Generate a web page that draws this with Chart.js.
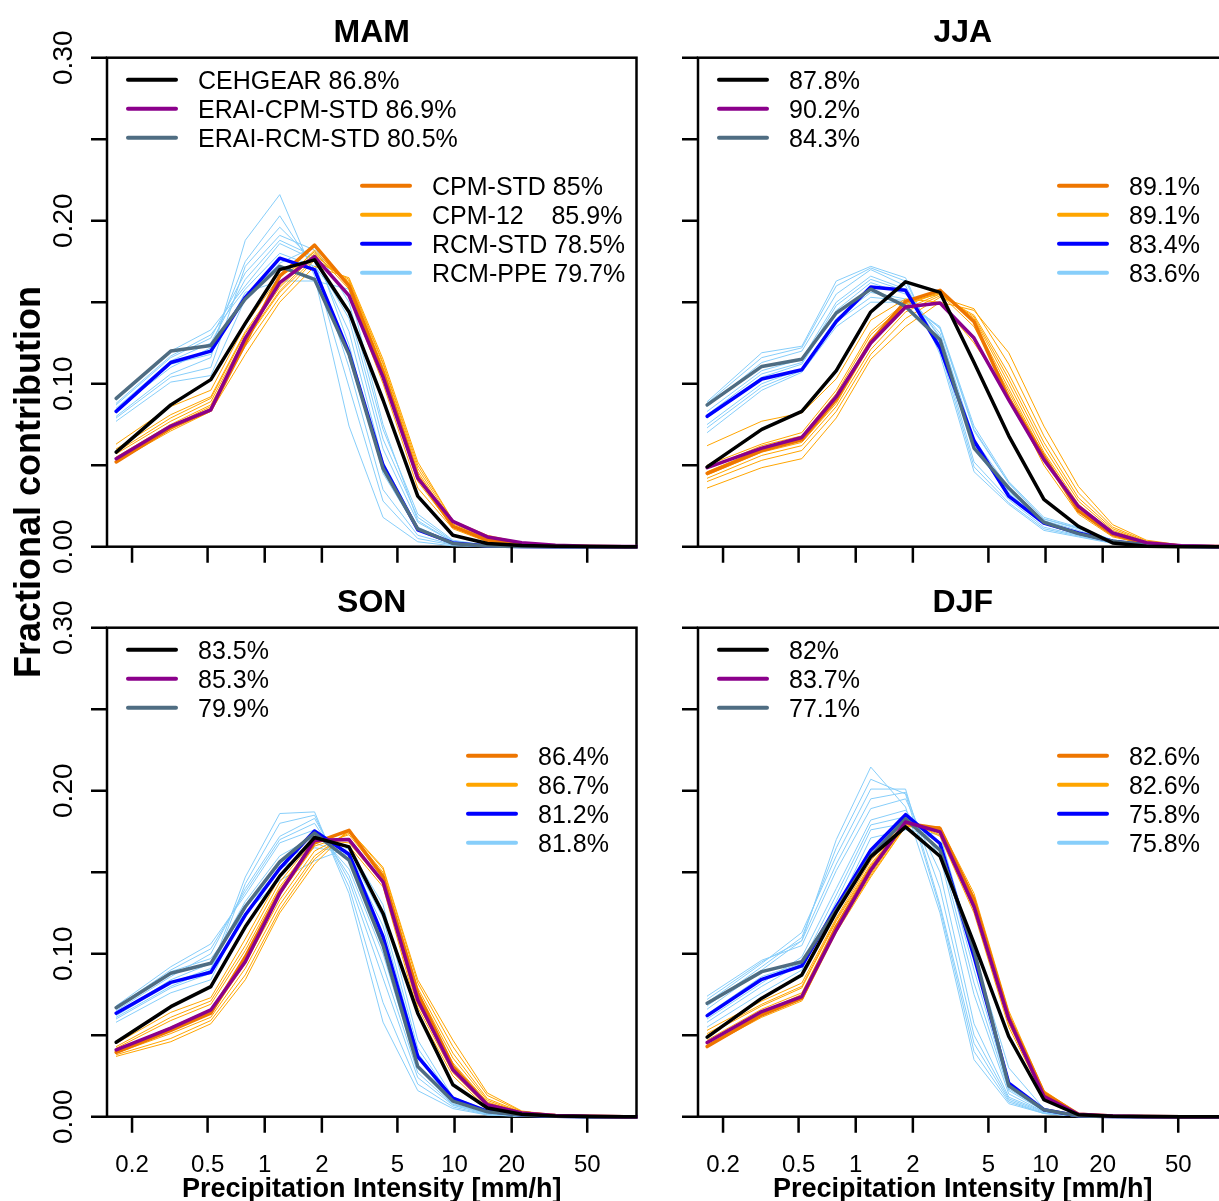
<!DOCTYPE html>
<html>
<head>
<meta charset="utf-8">
<title>Fractional contribution by precipitation intensity</title>
<script src="https://cdn.jsdelivr.net/npm/chart.js@4.4.1/dist/chart.umd.min.js"></script>
<style>
  html, body { margin: 0; padding: 0; background: #fff; overflow: hidden; }
  body { width: 1219px; height: 1201px; position: relative; }
  canvas { position: absolute; }
  #ylab {
    position: absolute; left: 28px; top: 482px;
    transform: translate(-50%, -50%) rotate(-90deg);
    font: bold 36px "Liberation Sans", Arial, sans-serif;
    line-height: 36px; white-space: nowrap; color: #000;
  }
</style>
</head>
<body>
<canvas id="mam" width="640" height="600" style="left:0px;top:0px"></canvas>
<canvas id="jja" width="640" height="600" style="left:591px;top:0px"></canvas>
<canvas id="son" width="640" height="631" style="left:0px;top:570px"></canvas>
<canvas id="djf" width="640" height="631" style="left:591px;top:570px"></canvas>
<div id="ylab">Fractional contribution</div>

<script>
//data
const xBins = [0.165, 0.32, 0.52, 0.79, 1.2, 1.83, 2.78, 4.2, 6.4, 9.8, 14.9, 22.6, 34, 52, 79, 120];
const xTicks = [0.2, 0.5, 1, 2, 5, 10, 20, 50];
const xTickLabels = ['0.2', '0.5', '1', '2', '5', '10', '20', '50'];
const yTicks = [0, 0.05, 0.1, 0.15, 0.2, 0.25, 0.3];
const yLabelValues = [0, 0.1, 0.2, 0.3];
const yLabels = ['0.00', '0.10', '0.20', '0.30'];

const seriesNames = ['CEHGEAR', 'ERAI-CPM-STD', 'ERAI-RCM-STD', 'CPM-STD', 'CPM-12', 'RCM-STD', 'RCM-PPE'];

// MAM
const mamObs      = [0.058, 0.087, 0.1025, 0.137, 0.170, 0.176, 0.144, 0.090, 0.031, 0.007, 0.002, 0.0008, 0.0003, 0.0001, 0, 0];
const mamEraiCpm  = [0.054, 0.074, 0.084, 0.128, 0.162, 0.178, 0.154, 0.104, 0.042, 0.0155, 0.006, 0.0025, 0.0009, 0.0003, 0.0001, 0];
const mamEraiRcm  = [0.091, 0.120, 0.1235, 0.152, 0.172, 0.164, 0.118, 0.048, 0.011, 0.002, 0.0005, 0.0001, 0, 0, 0, 0];
const mamCpmStd   = [0.052, 0.073, 0.084, 0.125, 0.166, 0.185, 0.160, 0.107, 0.043, 0.0125, 0.004, 0.0015, 0.0005, 0.0001, 0, 0];
const mamRcmStd   = [0.083, 0.113, 0.120, 0.153, 0.177, 0.170, 0.119, 0.050, 0.0104, 0.0023, 0.0005, 0.0001, 0, 0, 0, 0];
const mamCpm12 = [
  [0.063, 0.086, 0.096, 0.136, 0.166, 0.178, 0.155, 0.100, 0.036, 0.011, 0.003, 0.001, 0.0003, 0.0001, 0, 0],
  [0.060, 0.081, 0.092, 0.132, 0.162, 0.181, 0.158, 0.104, 0.040, 0.012, 0.004, 0.0012, 0.0004, 0.0001, 0, 0],
  [0.058, 0.079, 0.091, 0.131, 0.160, 0.182, 0.160, 0.106, 0.042, 0.013, 0.0045, 0.0014, 0.0005, 0.0001, 0, 0],
  [0.057, 0.077, 0.089, 0.129, 0.159, 0.180, 0.161, 0.108, 0.044, 0.013, 0.005, 0.0015, 0.0005, 0.0001, 0, 0],
  [0.055, 0.075, 0.087, 0.127, 0.157, 0.179, 0.162, 0.110, 0.046, 0.014, 0.0055, 0.0018, 0.0006, 0.0001, 0, 0],
  [0.054, 0.074, 0.086, 0.126, 0.156, 0.177, 0.163, 0.112, 0.048, 0.015, 0.006, 0.002, 0.0007, 0.0002, 0, 0],
  [0.053, 0.072, 0.085, 0.123, 0.153, 0.176, 0.164, 0.113, 0.050, 0.016, 0.0065, 0.0022, 0.0008, 0.0002, 0, 0],
  [0.052, 0.071, 0.083, 0.118, 0.150, 0.172, 0.165, 0.115, 0.052, 0.016, 0.007, 0.0025, 0.0009, 0.0002, 0, 0]
];
const mamRcmPpe = [
  [0.080, 0.106, 0.116, 0.188, 0.216, 0.166, 0.074, 0.018, 0.003, 0.0005, 0.0001, 0, 0, 0, 0, 0],
  [0.084, 0.110, 0.122, 0.175, 0.203, 0.170, 0.098, 0.028, 0.005, 0.001, 0.0002, 0, 0, 0, 0, 0],
  [0.079, 0.104, 0.110, 0.172, 0.196, 0.175, 0.110, 0.035, 0.007, 0.0012, 0.0002, 0, 0, 0, 0, 0],
  [0.087, 0.116, 0.128, 0.168, 0.191, 0.182, 0.124, 0.045, 0.010, 0.002, 0.0004, 0.0001, 0, 0, 0, 0],
  [0.085, 0.114, 0.125, 0.164, 0.188, 0.178, 0.132, 0.052, 0.012, 0.0025, 0.0005, 0.0001, 0, 0, 0, 0],
  [0.090, 0.120, 0.133, 0.160, 0.186, 0.176, 0.140, 0.060, 0.015, 0.003, 0.0006, 0.0001, 0, 0, 0, 0],
  [0.088, 0.117, 0.130, 0.158, 0.180, 0.172, 0.145, 0.066, 0.018, 0.0035, 0.0007, 0.0001, 0, 0, 0, 0],
  [0.077, 0.101, 0.105, 0.152, 0.174, 0.184, 0.150, 0.072, 0.020, 0.004, 0.0008, 0.0002, 0, 0, 0, 0],
  [0.082, 0.112, 0.118, 0.156, 0.163, 0.163, 0.158, 0.075, 0.016, 0.003, 0.0006, 0.0001, 0, 0, 0, 0]
];
const mamPct = ['86.8%', '86.9%', '80.5%', '85%', '85.9%', '78.5%', '79.7%'];

// JJA
const jjaObs      = [0.049, 0.072, 0.083, 0.108, 0.144, 0.1625, 0.156, 0.113, 0.068, 0.029, 0.0125, 0.0023, 0.0003, 0, 0, 0];
const jjaEraiCpm  = [0.0485, 0.0605, 0.067, 0.092, 0.125, 0.147, 0.1495, 0.128, 0.090, 0.0534, 0.0247, 0.0084, 0.0025, 0.0006, 0.0001, 0];
const jjaEraiRcm  = [0.087, 0.1106, 0.115, 0.1434, 0.158, 0.1474, 0.127, 0.0605, 0.036, 0.015, 0.008, 0.0033, 0.001, 0.0003, 0, 0];
const jjaCpmStd   = [0.045, 0.059, 0.0656, 0.0904, 0.126, 0.1505, 0.1573, 0.138, 0.091, 0.0554, 0.022, 0.0075, 0.002, 0.0005, 0.0001, 0];
const jjaRcmStd   = [0.080, 0.1029, 0.1086, 0.1382, 0.1593, 0.1573, 0.1219, 0.065, 0.031, 0.0145, 0.0084, 0.0033, 0.001, 0.0003, 0, 0];
const jjaCpm12 = [
  [0.062, 0.077, 0.082, 0.103, 0.139, 0.152, 0.150, 0.125, 0.093, 0.050, 0.020, 0.006, 0.0015, 0.0003, 0, 0],
  [0.050, 0.063, 0.070, 0.096, 0.132, 0.150, 0.155, 0.135, 0.095, 0.055, 0.024, 0.008, 0.002, 0.0005, 0.0001, 0],
  [0.048, 0.062, 0.068, 0.094, 0.130, 0.149, 0.156, 0.138, 0.097, 0.056, 0.025, 0.0085, 0.0022, 0.0005, 0.0001, 0],
  [0.046, 0.060, 0.066, 0.091, 0.127, 0.148, 0.156, 0.140, 0.100, 0.058, 0.026, 0.009, 0.0025, 0.0006, 0.0001, 0],
  [0.044, 0.058, 0.064, 0.088, 0.124, 0.146, 0.155, 0.141, 0.103, 0.061, 0.028, 0.010, 0.0028, 0.0007, 0.0001, 0],
  [0.042, 0.056, 0.062, 0.086, 0.121, 0.144, 0.154, 0.142, 0.106, 0.064, 0.030, 0.011, 0.003, 0.0008, 0.0002, 0],
  [0.040, 0.053, 0.059, 0.083, 0.118, 0.140, 0.153, 0.146, 0.112, 0.068, 0.033, 0.012, 0.0035, 0.0009, 0.0002, 0],
  [0.036, 0.0485, 0.054, 0.079, 0.115, 0.135, 0.150, 0.145, 0.119, 0.074, 0.037, 0.0135, 0.004, 0.001, 0.0002, 0]
];
const jjaRcmPpe = [
  [0.089, 0.119, 0.123, 0.163, 0.172, 0.165, 0.118, 0.046, 0.026, 0.010, 0.006, 0.002, 0.0006, 0.0001, 0, 0],
  [0.088, 0.116, 0.122, 0.160, 0.171, 0.163, 0.121, 0.049, 0.027, 0.011, 0.0065, 0.0022, 0.0006, 0.0001, 0, 0],
  [0.086, 0.113, 0.120, 0.155, 0.170, 0.160, 0.124, 0.052, 0.029, 0.012, 0.007, 0.0025, 0.0007, 0.0002, 0, 0],
  [0.083, 0.108, 0.115, 0.150, 0.166, 0.158, 0.128, 0.060, 0.033, 0.014, 0.008, 0.003, 0.0009, 0.0002, 0, 0],
  [0.081, 0.106, 0.113, 0.148, 0.164, 0.157, 0.129, 0.063, 0.034, 0.015, 0.009, 0.0032, 0.001, 0.0002, 0, 0],
  [0.079, 0.104, 0.112, 0.145, 0.162, 0.155, 0.131, 0.066, 0.036, 0.016, 0.010, 0.0035, 0.001, 0.0003, 0, 0],
  [0.075, 0.100, 0.109, 0.140, 0.156, 0.152, 0.134, 0.071, 0.039, 0.017, 0.011, 0.004, 0.0012, 0.0003, 0, 0],
  [0.073, 0.098, 0.108, 0.138, 0.153, 0.151, 0.134, 0.072, 0.039, 0.017, 0.0115, 0.004, 0.0012, 0.0003, 0, 0],
  [0.070, 0.096, 0.107, 0.135, 0.150, 0.150, 0.135, 0.074, 0.040, 0.018, 0.012, 0.004, 0.0012, 0.0003, 0, 0]
];
const jjaPct = ['87.8%', '90.2%', '84.3%', '89.1%', '89.1%', '83.4%', '83.6%'];

// SON
const sonObs      = [0.0457, 0.0675, 0.0798, 0.1165, 0.1476, 0.1713, 0.1655, 0.1247, 0.0635, 0.0196, 0.0053, 0.0015, 0.0004, 0.0001, 0, 0];
const sonEraiCpm  = [0.041, 0.0543, 0.0655, 0.0951, 0.137, 0.1696, 0.170, 0.144, 0.0716, 0.0288, 0.0073, 0.0023, 0.0007, 0.0002, 0, 0];
const sonEraiRcm  = [0.0669, 0.088, 0.0941, 0.1288, 0.1563, 0.174, 0.1574, 0.105, 0.0308, 0.0096, 0.003, 0.001, 0.0002, 0, 0, 0];
const sonCpmStd   = [0.0395, 0.053, 0.0635, 0.098, 0.138, 0.168, 0.1757, 0.1471, 0.0757, 0.0308, 0.0073, 0.0023, 0.0007, 0.0002, 0, 0];
const sonRcmStd   = [0.0635, 0.0824, 0.0886, 0.1237, 0.1523, 0.1753, 0.161, 0.1104, 0.0369, 0.0114, 0.0033, 0.001, 0.0002, 0, 0, 0];
const sonCpm12 = [
  [0.045, 0.064, 0.073, 0.109, 0.147, 0.172, 0.166, 0.141, 0.064, 0.025, 0.005, 0.001, 0.0003, 0.0001, 0, 0],
  [0.043, 0.061, 0.071, 0.105, 0.144, 0.170, 0.168, 0.143, 0.067, 0.027, 0.006, 0.0015, 0.0004, 0.0001, 0, 0],
  [0.042, 0.059, 0.069, 0.102, 0.141, 0.169, 0.170, 0.144, 0.069, 0.029, 0.007, 0.0018, 0.0005, 0.0001, 0, 0],
  [0.041, 0.055, 0.066, 0.097, 0.136, 0.166, 0.173, 0.147, 0.074, 0.033, 0.009, 0.0023, 0.0006, 0.0001, 0, 0],
  [0.040, 0.053, 0.063, 0.094, 0.133, 0.163, 0.174, 0.149, 0.077, 0.036, 0.010, 0.0025, 0.0007, 0.0001, 0, 0],
  [0.039, 0.051, 0.061, 0.091, 0.130, 0.160, 0.175, 0.150, 0.079, 0.039, 0.011, 0.0028, 0.0008, 0.0002, 0, 0],
  [0.038, 0.048, 0.059, 0.087, 0.127, 0.158, 0.176, 0.152, 0.082, 0.043, 0.013, 0.0032, 0.0009, 0.0002, 0, 0],
  [0.037, 0.046, 0.057, 0.084, 0.125, 0.155, 0.176, 0.153, 0.084, 0.047, 0.0145, 0.0035, 0.001, 0.0002, 0, 0]
];
const sonRcmPpe = [
  [0.061, 0.080, 0.090, 0.147, 0.186, 0.187, 0.137, 0.058, 0.016, 0.005, 0.001, 0.0002, 0, 0, 0, 0],
  [0.060, 0.079, 0.088, 0.143, 0.180, 0.185, 0.141, 0.070, 0.020, 0.006, 0.0012, 0.0002, 0, 0, 0, 0],
  [0.065, 0.086, 0.100, 0.140, 0.172, 0.183, 0.145, 0.085, 0.024, 0.007, 0.0015, 0.0003, 0, 0, 0, 0],
  [0.067, 0.090, 0.103, 0.138, 0.170, 0.180, 0.148, 0.093, 0.027, 0.0075, 0.0018, 0.0003, 0, 0, 0, 0],
  [0.068, 0.092, 0.106, 0.136, 0.168, 0.176, 0.152, 0.100, 0.030, 0.008, 0.002, 0.0004, 0, 0, 0, 0],
  [0.063, 0.084, 0.094, 0.132, 0.160, 0.172, 0.158, 0.112, 0.036, 0.009, 0.0025, 0.0005, 0, 0, 0, 0],
  [0.062, 0.082, 0.091, 0.130, 0.156, 0.168, 0.160, 0.117, 0.039, 0.010, 0.0028, 0.0006, 0, 0, 0, 0],
  [0.058, 0.076, 0.084, 0.128, 0.152, 0.165, 0.162, 0.122, 0.042, 0.011, 0.003, 0.0006, 0, 0, 0, 0],
  [0.066, 0.089, 0.097, 0.125, 0.145, 0.157, 0.165, 0.130, 0.047, 0.012, 0.004, 0.0008, 0.0001, 0, 0, 0]
];
const sonPct = ['83.5%', '85.3%', '79.9%', '86.4%', '86.7%', '81.2%', '81.8%'];

// DJF
const djfObs      = [0.0488, 0.0727, 0.087, 0.1257, 0.1594, 0.1778, 0.1598, 0.1063, 0.0492, 0.0104, 0.0012, 0.0003, 0.0001, 0, 0, 0];
const djfEraiCpm  = [0.0455, 0.0645, 0.0737, 0.1145, 0.1512, 0.1808, 0.1747, 0.1288, 0.060, 0.0125, 0.0015, 0.0004, 0.0001, 0, 0, 0];
const djfEraiRcm  = [0.0696, 0.089, 0.0951, 0.127, 0.160, 0.1827, 0.1635, 0.102, 0.019, 0.0043, 0.0005, 0.0001, 0, 0, 0, 0];
const djfCpmStd   = [0.043, 0.0625, 0.0727, 0.1165, 0.152, 0.180, 0.1768, 0.1329, 0.0614, 0.0145, 0.0015, 0.0004, 0.0001, 0, 0, 0];
const djfRcmStd   = [0.062, 0.0843, 0.0925, 0.1288, 0.1635, 0.1853, 0.1676, 0.0982, 0.0206, 0.0043, 0.0005, 0.0001, 0, 0, 0, 0];
const djfCpm12 = [
  [0.053, 0.071, 0.082, 0.122, 0.157, 0.182, 0.172, 0.125, 0.055, 0.012, 0.001, 0.0002, 0, 0, 0, 0],
  [0.051, 0.069, 0.080, 0.121, 0.155, 0.181, 0.173, 0.127, 0.057, 0.0125, 0.0011, 0.0002, 0, 0, 0, 0],
  [0.050, 0.068, 0.079, 0.120, 0.154, 0.181, 0.174, 0.128, 0.058, 0.013, 0.0012, 0.0003, 0, 0, 0, 0],
  [0.047, 0.066, 0.076, 0.118, 0.152, 0.180, 0.176, 0.131, 0.060, 0.014, 0.0014, 0.0003, 0, 0, 0, 0],
  [0.046, 0.064, 0.075, 0.117, 0.150, 0.180, 0.176, 0.132, 0.061, 0.0145, 0.0015, 0.0003, 0, 0, 0, 0],
  [0.045, 0.063, 0.073, 0.115, 0.149, 0.179, 0.177, 0.134, 0.062, 0.015, 0.0016, 0.0004, 0, 0, 0, 0],
  [0.044, 0.062, 0.072, 0.114, 0.148, 0.178, 0.177, 0.135, 0.063, 0.0155, 0.0018, 0.0004, 0, 0, 0, 0],
  [0.043, 0.061, 0.071, 0.113, 0.147, 0.178, 0.178, 0.137, 0.065, 0.016, 0.002, 0.0004, 0, 0, 0, 0]
];
const djfRcmPpe = [
  [0.066, 0.090, 0.108, 0.170, 0.2145, 0.190, 0.125, 0.035, 0.008, 0.002, 0.0003, 0, 0, 0, 0, 0],
  [0.068, 0.092, 0.110, 0.165, 0.207, 0.198, 0.128, 0.040, 0.009, 0.002, 0.0003, 0, 0, 0, 0, 0],
  [0.070, 0.094, 0.113, 0.160, 0.201, 0.201, 0.130, 0.045, 0.010, 0.002, 0.0003, 0, 0, 0, 0, 0],
  [0.072, 0.095, 0.108, 0.155, 0.195, 0.199, 0.140, 0.050, 0.011, 0.0025, 0.0004, 0, 0, 0, 0, 0],
  [0.074, 0.096, 0.105, 0.151, 0.189, 0.195, 0.150, 0.057, 0.012, 0.003, 0.0004, 0, 0, 0, 0, 0],
  [0.060, 0.082, 0.098, 0.140, 0.182, 0.188, 0.160, 0.075, 0.014, 0.003, 0.0005, 0, 0, 0, 0, 0],
  [0.058, 0.080, 0.094, 0.136, 0.179, 0.184, 0.164, 0.082, 0.016, 0.0035, 0.0005, 0, 0, 0, 0, 0],
  [0.055, 0.076, 0.090, 0.132, 0.176, 0.180, 0.168, 0.090, 0.017, 0.004, 0.0006, 0, 0, 0, 0, 0],
  [0.063, 0.086, 0.094, 0.127, 0.171, 0.176, 0.173, 0.100, 0.030, 0.005, 0.0008, 0.0001, 0, 0, 0, 0]
];
const djfPct = ['82%', '83.7%', '77.1%', '82.6%', '82.6%', '75.8%', '75.8%'];

//styles
const FONT = '"Liberation Sans", Arial, Helvetica, sans-serif';
const colObs = '#000000';
const colEraiCpm = '#8b008b';
const colEraiRcm = '#4f6d82';
const colCpmStd = '#ee7600';
const colCpm12 = '#ffa500';
const colRcmStd = '#0000ff';
const colRcmPpe = '#87cefa';
const legendColors = [colObs, colEraiCpm, colEraiRcm, colCpmStd, colCpm12, colRcmStd, colRcmPpe];

// log axis range picked so 1 mm/h and 10 mm/h land where the original puts them
const X_MIN = 0.1476;
const X_MAX = 90.9;

function toPoints(vals) {
    return vals.map((v, i) => ({ x: xBins[i], y: v }));
}

function lineSet(label, vals, color, width) {
    return {
        label: label,
        data: toPoints(vals),
        borderColor: color,
        borderWidth: width,
        borderCapStyle: 'round',
        borderJoinStyle: 'round',
        pointRadius: 0,
        fill: false,
        tension: 0,
        clip: { left: 0, top: 0, right: 1, bottom: 3 }
    };
}

function buildDatasets(obs, eraiCpm, eraiRcm, cpmStd, rcmStd, cpm12, rcmPpe) {
    // first dataset ends up on top in Chart.js
    const sets = [
        lineSet('CEHGEAR', obs, colObs, 3.5),
        lineSet('ERAI-CPM-STD', eraiCpm, colEraiCpm, 3.5),
        lineSet('ERAI-RCM-STD', eraiRcm, colEraiRcm, 3.5),
        lineSet('RCM-STD', rcmStd, colRcmStd, 3.5),
        lineSet('CPM-STD', cpmStd, colCpmStd, 3.5)
    ];
    cpm12.forEach((m, i) => sets.push(lineSet('CPM-12 #' + (i + 1), m, colCpm12, 1)));
    rcmPpe.forEach((m, i) => sets.push(lineSet('RCM-PPE #' + (i + 1), m, colRcmPpe, 1)));
    return sets;
}

const rAxes = {
    id: 'rAxes',
    beforeDatasetsDraw(chart) {
        const ctx = chart.ctx;
        const a = chart.chartArea;
        ctx.save();
        ctx.strokeStyle = '#000';
        ctx.lineWidth = 2.5;
        ctx.strokeRect(a.left, a.top, a.right - a.left, a.bottom - a.top);
        ctx.restore();
    },
    afterDraw(chart) {
        const opts = chart.options.plugins.rAxes;
        const ctx = chart.ctx;
        const a = chart.chartArea;
        const xs = chart.scales.x;
        const ys = chart.scales.y;

        ctx.save();
        ctx.strokeStyle = '#000';
        ctx.fillStyle = '#000';
        ctx.lineWidth = 2.5;

        // tick marks
        ctx.beginPath();
        xTicks.forEach(v => {
            const px = xs.getPixelForValue(v);
            ctx.moveTo(px, a.bottom);
            ctx.lineTo(px, a.bottom + 16);
        });
        yTicks.forEach(v => {
            const py = ys.getPixelForValue(v);
            ctx.moveTo(a.left - 16, py);
            ctx.lineTo(a.left, py);
        });
        ctx.stroke();

        if (opts.showX) {
            ctx.font = '24px ' + FONT;
            ctx.textAlign = 'center';
            ctx.textBaseline = 'alphabetic';
            xTicks.forEach((v, i) => {
                ctx.fillText(xTickLabels[i], xs.getPixelForValue(v), a.bottom + 55);
            });
            ctx.font = 'bold 27px ' + FONT;
            ctx.fillText('Precipitation Intensity [mm/h]', (a.left + a.right) / 2, a.bottom + 80);
        }

        if (opts.showY) {
            ctx.font = '28px ' + FONT;
            ctx.textAlign = 'center';
            ctx.textBaseline = 'alphabetic';
            yLabelValues.forEach((v, i) => {
                ctx.save();
                ctx.translate(a.left - 35, ys.getPixelForValue(v));
                ctx.rotate(-Math.PI / 2);
                ctx.fillText(yLabels[i], 0, 0);
                ctx.restore();
            });
        }

        // panel title
        ctx.font = 'bold 32px ' + FONT;
        ctx.textAlign = 'center';
        ctx.textBaseline = 'alphabetic';
        ctx.fillText(opts.title, (a.left + a.right) / 2, a.top - 16);

        // two legend blocks
        const rows = [22, 51, 80, 128, 157, 186, 215];
        ctx.font = '25px ' + FONT;
        ctx.textAlign = 'left';
        ctx.lineCap = 'round';
        ctx.lineWidth = 4;
        opts.legendText.forEach((txt, i) => {
            const x0 = a.left + (i < 3 ? 21 : opts.legend2Left);
            const y = a.top + rows[i];
            ctx.strokeStyle = legendColors[i];
            ctx.beginPath();
            ctx.moveTo(x0, y);
            ctx.lineTo(x0 + 48, y);
            ctx.stroke();
            ctx.fillText(txt, x0 + 70, y + 9);
        });
        ctx.restore();
    }
};

function makePanel(id, title, datasets, legendText, legend2Left, showX, showY) {
    const canvas = document.getElementById(id);
    const padBottom = canvas.height - 546.7;
    return new Chart(canvas.getContext('2d'), {
        type: 'line',
        data: { datasets: datasets },
        options: {
            responsive: false,
            animation: false,
            devicePixelRatio: 1,
            layout: { padding: { left: 107, top: 57.7, right: 3.5, bottom: padBottom } },
            plugins: {
                legend: { display: false },
                tooltip: { enabled: false },
                rAxes: { title: title, legendText: legendText, legend2Left: legend2Left, showX: showX, showY: showY }
            },
            scales: {
                x: { type: 'logarithmic', min: X_MIN, max: X_MAX, display: false },
                y: { type: 'linear', min: 0, max: 0.3, display: false }
            }
        },
        plugins: [rAxes]
    });
}

function main() {
    const mamLegend = seriesNames.map((n, i) => n + (n === 'CPM-12' ? '    ' : ' ') + mamPct[i]);

    makePanel('mam', 'MAM',
        buildDatasets(mamObs, mamEraiCpm, mamEraiRcm, mamCpmStd, mamRcmStd, mamCpm12, mamRcmPpe),
        mamLegend, 255, false, true);
    makePanel('jja', 'JJA',
        buildDatasets(jjaObs, jjaEraiCpm, jjaEraiRcm, jjaCpmStd, jjaRcmStd, jjaCpm12, jjaRcmPpe),
        jjaPct, 361, false, false);
    makePanel('son', 'SON',
        buildDatasets(sonObs, sonEraiCpm, sonEraiRcm, sonCpmStd, sonRcmStd, sonCpm12, sonRcmPpe),
        sonPct, 361, true, true);
    makePanel('djf', 'DJF',
        buildDatasets(djfObs, djfEraiCpm, djfEraiRcm, djfCpmStd, djfRcmStd, djfCpm12, djfRcmPpe),
        djfPct, 361, true, false);
}

main();
</script>
</body>
</html>
